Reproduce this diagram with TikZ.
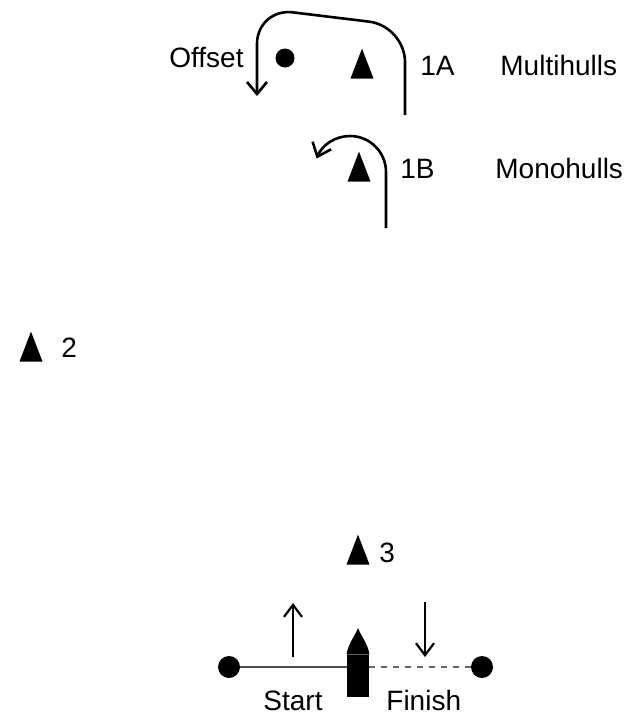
\documentclass[tikz,border=0pt]{standalone}
\usepackage{fontspec}
\setmainfont{Liberation Sans}
\usetikzlibrary{positioning,shapes.geometric,arrows.meta,calc}

\begin{document}
\begin{tikzpicture}[x=0.5pt,y=-0.5pt,
	font=\fontsize{14}{16}\selectfont,
	cone/.style={isosceles triangle,shape border rotate=90,isosceles triangle stretches,
		minimum width=11.5pt,minimum height=15pt,inner sep=0pt,fill=black,anchor=south},
	buoy/.style={circle,fill=black,inner sep=0pt,minimum size=9.5pt},
	pin/.style={circle,fill=black,inner sep=0pt,minimum size=11pt},
	lbl/.style={anchor=base west,inner sep=0pt},
	rounding/.style={line width=1.3pt,-{Straight Barb[length=6pt,width=10pt]}},
	dir/.style={line width=1.1pt,-{Straight Barb[length=6pt,width=9pt]}}
	]
	\useasboundingbox (0,0) rectangle (626,713);
	
	% the marks
	\node[cone] (m1a) at (362,79) {};
	\node[cone] (m1b) at (359,182) {};
	\node[cone] (m2) at (31,362) {};
	\node[cone] (m3) at (358,565) {};
	\node[buoy] (off) at (285,58) {};
	
	% the labels
	\node[lbl] (t1a) at (420,75) {1A};
	\node[lbl] (t1b) at (400,178) {1B};
	\node[lbl] (t2) at (61,357) {2};
	\node[lbl] (t3) at (379,562) {3};
	\node[lbl] (toff) at (169,67) {Offset};
	\node[lbl] (tmulti) at (500,75) {Multihulls};
	\node[lbl] (tmono) at (495,178) {Monohulls};
	
	% the start and finish line
	\node[pin] (pinl) at (229,667) {};
	\node[pin] (pinr) at (482,667) {};
	\node[rectangle,fill=black,inner sep=0pt,minimum width=11pt,minimum height=21pt] (boat) at (358,676) {};
	\fill (boat.north west) .. controls ($(boat.north west)+(1,-10)$) and (356,634) .. (358,628)
		.. controls (360,634) and ($(boat.north east)+(-1,-10)$) .. (boat.north east) -- cycle;
	\draw[line width=0.8pt,black!70] (pinl) -- (pinl -| boat.west);
	\draw[line width=0.8pt,black!60,dashed] (pinr -| boat.east) -- (pinr);
	\node[lbl] (tstart) at (263,710) {Start};
	\node[lbl] (tfinish) at (386,710) {Finish};
	
	% the roundings
	\coordinate (a1) at (405,115);
	\coordinate (a2) at (405,26);
	\coordinate (a3) at (257,8);
	\coordinate (a4) at (257,96);
	\draw[rounding,rounded corners=18pt] (a1) -- (a2) -- (a3) -- (a4);
	\coordinate (b1) at (386,228);
	\coordinate (b2) at (386,172);
	\draw[rounding] (b1) -- (b2) arc[start angle=0,end angle=158,radius=18pt];
	
	% the directions
	\coordinate (up1) at (293,657);
	\coordinate (up2) at (293,603);
	\coordinate (dn1) at (425,602);
	\coordinate (dn2) at (425,657);
	\draw[dir] (up1) -- (up2);
	\draw[dir] (dn1) -- (dn2);
\end{tikzpicture}
\end{document}
